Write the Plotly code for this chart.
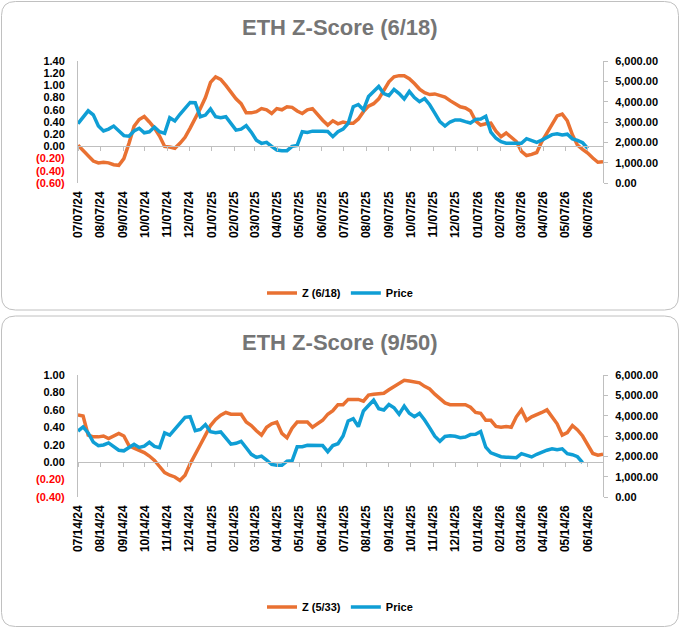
import pandas as pd
import plotly.graph_objects as go

# ---- data (weekly) ----
top_start = "2024-07-07"
top_title = "ETH Z-Score (6/18)"
top_z_name = "Z (6/18)"
top_z = [0.02, -0.07, -0.15, -0.24, -0.27, -0.26, -0.27, -0.30, -0.31, -0.20,
         0.05, 0.33, 0.44, 0.49, 0.40, 0.30, 0.17, 0.00, -0.01, -0.03,
         0.05, 0.15, 0.30, 0.45, 0.62, 0.80, 1.05, 1.14, 1.10, 1.00,
         0.88, 0.78, 0.70, 0.55, 0.55, 0.57, 0.62, 0.60, 0.54, 0.62,
         0.60, 0.65, 0.64, 0.58, 0.54, 0.60, 0.62, 0.52, 0.43, 0.35,
         0.42, 0.37, 0.40, 0.38, 0.38, 0.45, 0.57, 0.66, 0.70, 0.78,
         0.93, 1.06, 1.14, 1.16, 1.16, 1.11, 1.03, 0.94, 0.88, 0.85,
         0.86, 0.84, 0.81, 0.75, 0.70, 0.65, 0.63, 0.58, 0.42, 0.35,
         0.37, 0.38, 0.25, 0.16, 0.22, 0.15, 0.08, -0.08, -0.15, -0.13,
         -0.10, 0.08, 0.22, 0.36, 0.50, 0.53, 0.42, 0.19, 0.02, -0.05,
         -0.11, -0.19, -0.26, -0.25]
top_price = [2920, 3260, 3550, 3350, 2800, 2560, 2650, 2800, 2560, 2330,
             2300, 2560, 2690, 2470, 2520, 2750, 2520, 2440, 3210, 3050,
             3380, 3670, 3960, 3950, 3260, 3340, 3640, 3260, 3210, 3260,
             2930, 2600, 2650, 2820, 2500, 2100, 1950, 2000, 1800, 1620,
             1590, 1590, 1800, 1850, 2520, 2490, 2550, 2560, 2540, 2530,
             2280, 2520, 2650, 2930, 3750, 3860, 3600, 4250, 4500, 4750,
             4400, 4300, 4600, 4400, 4130, 4500, 4200, 4000, 4150, 3850,
             3440, 3020, 2800, 3000, 3100, 3100, 3020, 2950, 3130, 3150,
             3280, 2500, 2200, 2030, 1960, 1950, 1930, 1950, 2180, 2080,
             2000, 2110, 2250, 2380, 2420, 2360, 2400, 2170, 2100, 1980,
             1700]

bot_start = "2024-07-14"
bot_title = "ETH Z-Score (9/50)"
bot_z_name = "Z (5/33)"
bot_z = [0.54, 0.53, 0.31, 0.29, 0.29, 0.30, 0.27, 0.30, 0.33, 0.30,
         0.19, 0.16, 0.14, 0.11, 0.07, 0.02, -0.05, -0.12, -0.15, -0.17,
         -0.21, -0.15, -0.02, 0.10, 0.20, 0.31, 0.42, 0.49, 0.54, 0.57,
         0.55, 0.55, 0.55, 0.46,
         0.42, 0.36, 0.31, 0.40, 0.44, 0.46, 0.33, 0.28, 0.39, 0.46,
         0.46, 0.46, 0.40, 0.44, 0.48, 0.55, 0.59, 0.66, 0.66, 0.72,
         0.72, 0.72, 0.70, 0.77, 0.78, 0.78, 0.79, 0.83, 0.87, 0.90,
         0.94, 0.93, 0.92, 0.91, 0.87,
         0.84, 0.78, 0.73, 0.68, 0.66, 0.66, 0.65, 0.66, 0.63, 0.57,
         0.56, 0.48, 0.48, 0.41, 0.40, 0.41, 0.40, 0.52, 0.60, 0.48,
         0.52, 0.54, 0.57, 0.60, 0.52, 0.44, 0.31, 0.34, 0.42, 0.37,
         0.30, 0.20, 0.10, 0.08, 0.09]
bot_price = [3240, 3450, 3150, 2700, 2520, 2560, 2660, 2480, 2300, 2270,
             2450, 2590, 2440, 2500, 2690, 2490, 2430, 3150, 3040, 3330,
             3650, 3920, 3950, 3260, 3320, 3560, 3210, 3160, 3200, 2900,
             2600, 2640, 2740, 2420,
             2100, 1950, 2010, 1820, 1600, 1560, 1560, 1760, 1780, 2470,
             2475, 2540, 2540, 2530, 2530, 2230, 2530, 2620, 3000, 3740,
             3850, 3460, 4230, 4500, 4760, 4340, 4280, 4550, 4390, 4070,
             4470, 4120, 3950, 4110, 3790,
             3400, 2990, 2740, 2980, 3010, 2990, 2920, 2950, 3070, 3080,
             3220, 2450, 2170, 2080, 1980, 1960, 1940, 1935, 2130, 2040,
             1970, 2100, 2220, 2300, 2370, 2320, 2370, 2130, 2080, 1980,
             1690]

top_zticks = [-0.6, -0.4, -0.2, 0.0, 0.2, 0.4, 0.6, 0.8, 1.0, 1.2, 1.4]
bot_zticks = [-0.4, -0.2, 0.0, 0.2, 0.4, 0.6, 0.8, 1.0]

W, H = 680, 628
ORANGE = "#E97132"
BLUE = "#0F9ED5"
AXIS = "#BFBFBF"
FONT = "Liberation Sans"


def px_x(p):
    return p / W


def px_y(p):
    return 1 - p / H


def z_label(v):
    if v < 0:
        return '<span style="color:#FF0000">(%.2f)</span>' % abs(v)
    return "%.2f" % v


def rounded_box(x0, y0, x1, y1, r):
    # path in paper coords, corners done with quadratic curves
    rx, ry = r / W, r / H
    a, b, c, d = px_x(x0), px_y(y0), px_x(x1), px_y(y1)
    return (f"M {a+rx},{b} L {c-rx},{b} Q {c},{b} {c},{b-ry} "
            f"L {c},{d+ry} Q {c},{d} {c-rx},{d} L {a+rx},{d} "
            f"Q {a},{d} {a},{d+ry} L {a},{b-ry} Q {a},{b} {a+rx},{b} Z")


fig = go.Figure()
bold = dict(family=FONT, size=11, color="black", weight="bold")


def add_panel(n, start, title, zname, zvals, pvals, zticks, box, plot_top, plot_bot, legend_y):
    dates = pd.date_range(start, periods=len(zvals), freq="7D")
    months = pd.date_range(start, dates[-1], freq=pd.DateOffset(months=1))
    xs = "x" if n == 1 else "x4"
    xo = "x3" if n == 1 else "x6"
    ys = "y" if n == 1 else "y3"
    yr = "y2" if n == 1 else "y4"
    leg = "legend" if n == 1 else "legend2"
    prices = pvals + [None] * (len(zvals) - len(pvals))

    fig.add_trace(go.Scatter(x=dates, y=zvals, name=zname, mode="lines",
                             line=dict(color=ORANGE, width=3.5),
                             xaxis=xs, yaxis=ys, legend=leg))
    fig.add_trace(go.Scatter(x=dates, y=prices, name="Price", mode="lines",
                             line=dict(color=BLUE, width=3.5),
                             xaxis=xs, yaxis=yr, legend=leg))
    # carrier for the zero-crossing axis
    fig.add_trace(go.Scatter(x=[dates[0]], y=[0], mode="lines", showlegend=False,
                             hoverinfo="skip", opacity=0, xaxis=xo, yaxis=ys))

    xdom = [px_x(78), px_x(603)]
    ydom = [px_y(plot_bot), px_y(plot_top)]
    zr = [zticks[0], zticks[-1]]
    zero_pos = ydom[0] + (0 - zr[0]) / (zr[1] - zr[0]) * (ydom[1] - ydom[0])
    xrange = [dates[0], dates[-1]]

    ax = lambda k: "" if k == 1 else str(k)
    sx, so, sy, sr = (1, 3, 1, 2) if n == 1 else (4, 6, 3, 4)

    fig.layout["xaxis" + ax(sx)] = dict(
        domain=xdom, anchor=ys, range=xrange, tickvals=months,
        tickformat="%m/%d/%y", tickangle=-90, showline=False, showgrid=False,
        zeroline=False, ticks="", tickfont=dict(family=FONT, size=12, color="black", weight="bold"),
        automargin=False, ticklabelstandoff=5)
    fig.layout["xaxis" + ax(so)] = dict(
        domain=xdom, overlaying=xs, anchor="free", position=zero_pos, range=xrange,
        tickvals=months, showticklabels=False, ticks="outside", ticklen=4,
        tickcolor=AXIS, showline=True, linecolor=AXIS, linewidth=1,
        showgrid=False, zeroline=False, automargin=False)
    fig.layout["yaxis" + ax(sy)] = dict(
        domain=ydom, anchor=xs, range=zr, tickvals=zticks,
        ticktext=[z_label(v) for v in zticks], showline=True, linecolor=AXIS,
        ticks="", showgrid=False, zeroline=False, tickfont=bold,
        automargin=False, ticklabelstandoff=10)
    fig.layout["yaxis" + ax(sr)] = dict(
        domain=ydom, anchor=xs, overlaying=ys, side="right", range=[0, 6000],
        dtick=1000, tickformat=",.2f", showline=True, linecolor=AXIS,
        ticks="outside", ticklen=4, tickcolor=AXIS, showgrid=False,
        zeroline=False, tickfont=bold, automargin=False, ticklabelstandoff=5)

    fig.layout[leg] = dict(orientation="h", x=0.5, xanchor="center", y=px_y(legend_y),
                           yanchor="middle", font=bold, bgcolor="rgba(0,0,0,0)",
                           itemwidth=30)
    fig.add_annotation(text=title, x=0.5, xref="paper", y=px_y(box[1] + 26), yref="paper",
                       showarrow=False, xanchor="center", yanchor="middle",
                       font=dict(family=FONT, size=22, color="#757575", weight="bold"))
    fig.add_shape(type="path", path=rounded_box(*box, 14), xref="paper", yref="paper",
                  line=dict(color="#C0C0C0", width=1), layer="below")


add_panel(1, top_start, top_title, top_z_name, top_z, top_price, top_zticks,
          (1.5, 1.5, 678.5, 310), 61, 183, 293)
add_panel(2, bot_start, bot_title, bot_z_name, bot_z, bot_price, bot_zticks,
          (1.5, 316, 678.5, 626.5), 375, 497, 607)

fig.update_layout(width=W, height=H, autosize=False,
                  margin=dict(l=0, r=0, t=0, b=0),
                  paper_bgcolor="white", plot_bgcolor="rgba(0,0,0,0)",
                  hovermode=False)

# the page body has a default 8px margin; drop it so the figure fills the window
fig.write_html("out.html", config={"displayModeBar": False},
               post_script="document.body.style.margin='0';document.body.style.overflow='hidden';")
